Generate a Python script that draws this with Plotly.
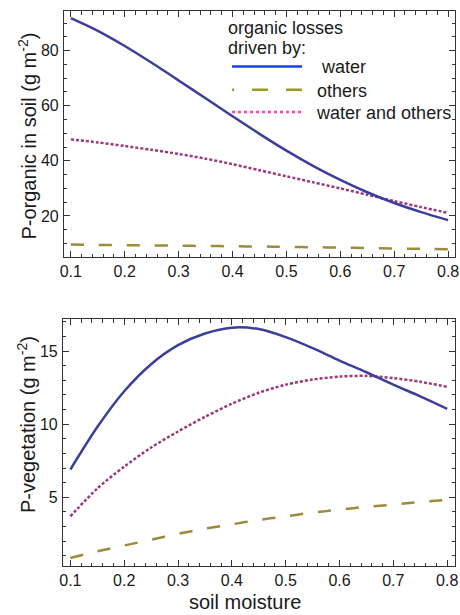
import plotly.graph_objects as go

# ---------------- data ----------------
moisture = [0.1, 0.15, 0.2, 0.25, 0.3, 0.35, 0.4, 0.45, 0.5, 0.55, 0.6, 0.65, 0.7, 0.75, 0.8]

soil_water = [91.8, 87.2, 81.7, 75.6, 69.2, 62.7, 56.2, 49.8, 43.7, 38.1, 33.1, 28.6, 24.7, 21.4, 18.5]
soil_others = [9.6, 9.5, 9.4, 9.3, 9.2, 9.1, 9.0, 8.9, 8.8, 8.65, 8.5, 8.35, 8.2, 8.05, 7.9]
soil_both = [47.8, 46.7, 45.4, 44.0, 42.5, 40.8, 38.8, 36.6, 34.4, 32.2, 30.0, 27.7, 25.4, 23.2, 21.1]

veg_water = [6.9, 9.8, 12.25, 14.1, 15.4, 16.2, 16.6, 16.5, 15.95, 15.2, 14.35, 13.55, 12.7, 11.9, 11.05]
veg_others = [0.85, 1.3, 1.7, 2.1, 2.5, 2.85, 3.15, 3.45, 3.7, 3.95, 4.15, 4.35, 4.5, 4.68, 4.82]
veg_both = [3.7, 5.6, 7.1, 8.4, 9.5, 10.5, 11.4, 12.15, 12.7, 13.05, 13.25, 13.3, 13.15, 12.9, 12.55]

series_names = ["water", "others", "water and others"]
legend_title_lines = ["organic losses", "driven by:"]
x_title = "soil moisture"
y_title_top = "P-organic in soil (g m<sup>-2</sup>)"
y_title_bottom = "P-vegetation (g m<sup>-2</sup>)"

x_ticks = [0.1, 0.2, 0.3, 0.4, 0.5, 0.6, 0.7, 0.8]

# ---------------- styles ----------------
FONT = "Liberation Sans, Arial, Helvetica, sans-serif"
TXT = "#1a1a1a"
C_WATER = "#3d3d9c"
C_OTHERS = "#9b8b3b"
C_BOTH = "#9a3a78"
LW = 2.5
W, H = 460, 615

fig = go.Figure()

panels = [
    ("x", "y", soil_water, soil_others, soil_both),
    ("x2", "y2", veg_water, veg_others, veg_both),
]
for xa, ya, sw, so, sb in panels:
    fig.add_trace(go.Scatter(x=moisture, y=so, xaxis=xa, yaxis=ya, mode="lines",
                             line=dict(color=C_OTHERS, width=LW, dash="13px,15px",
                                       shape="spline", smoothing=0.8),
                             showlegend=False, hoverinfo="skip"))
    fig.add_trace(go.Scatter(x=moisture, y=sb, xaxis=xa, yaxis=ya, mode="lines",
                             line=dict(color=C_BOTH, width=LW, dash="3px,2px",
                                       shape="spline", smoothing=0.8),
                             showlegend=False, hoverinfo="skip"))
    fig.add_trace(go.Scatter(x=moisture, y=sw, xaxis=xa, yaxis=ya, mode="lines",
                             line=dict(color=C_WATER, width=LW,
                                       shape="spline", smoothing=0.8),
                             showlegend=False, hoverinfo="skip"))

# legend-only entries (legend swatch colours differ from plotted lines)
legend_styles = [
    dict(color="#1a3cf5", width=LW),
    dict(color="#9a9a22", width=LW, dash="2px,18px,16px,18px,16px,100px"),
    dict(color="#ff3fa0", width=LW, dash="3px,3px"),
]
legend_ids = ["legend", "legend2", "legend3"]
legend_rows = [66.7, 90.0, 112.3]
name_pad = ["\u00a0\u00a0\u00a0", "\u00a0\u00a0", "\u00a0\u00a0"]
for name, st, lid, pad in zip(series_names, legend_styles, legend_ids, name_pad):
    fig.add_trace(go.Scatter(x=[None], y=[None], mode="lines", name=pad + name,
                             line=st, xaxis="x", yaxis="y", showlegend=True, legend=lid))


def px_x(p):
    return p / W


def px_y(p):
    return 1 - p / H


axis_common = dict(
    showgrid=False, zeroline=False, showline=True, linecolor="#333333", linewidth=1,
    mirror="allticks", ticks="inside", ticklen=6, tickwidth=1, tickcolor="#333333",
    tickfont=dict(family=FONT, size=16, color=TXT), ticklabeloverflow="allow",
    minor=dict(ticks="inside", ticklen=3.5, tickwidth=1, tickcolor="#333333"),
)

legend_common = dict(
    xanchor="left", yanchor="middle", bgcolor="rgba(0,0,0,0)", borderwidth=0,
    font=dict(family=FONT, size=18, color=TXT), itemwidth=70, tracegroupgap=0,
)

layout_legends = {}
for lid, row in zip(legend_ids, legend_rows):
    layout_legends[lid] = dict(x=px_x(227), y=px_y(row), **legend_common)

fig.update_layout(
    width=W, height=H,
    margin=dict(l=0, r=0, t=0, b=0),
    paper_bgcolor="white", plot_bgcolor="white",
    font=dict(family=FONT, color=TXT),
    xaxis=dict(domain=[px_x(61), px_x(459)], range=[0.0872, 0.8128], anchor="y",
               tickvals=x_ticks, ticktext=[f"{v:.1f}" for v in x_ticks],
               **{**axis_common, "minor": dict(axis_common["minor"], dtick=0.02, tick0=0.0)}),
    yaxis=dict(domain=[px_y(257), px_y(11)], range=[5.1, 94.4], anchor="x",
               dtick=20, tick0=0, ticklabelstandoff=1,
               **{**axis_common, "minor": dict(axis_common["minor"], dtick=5, tick0=0)}),
    xaxis2=dict(domain=[px_x(60), px_x(459)], range=[0.0862, 0.8146], anchor="y2",
                tickvals=x_ticks, ticktext=[f"{v:.1f}" for v in x_ticks],
                **{**axis_common, "minor": dict(axis_common["minor"], dtick=0.02, tick0=0.0)}),
    yaxis2=dict(domain=[px_y(566), px_y(319.3)], range=[0.3, 17.17], anchor="x2",
                dtick=5, tick0=0, ticklabelstandoff=1,
                **{**axis_common, "minor": dict(axis_common["minor"], dtick=1, tick0=0)}),
    showlegend=True,
    **layout_legends,
)

annotations = [
    dict(text=y_title_top, x=px_x(23), y=px_y(136), textangle=-90, xanchor="center"),
    dict(text=y_title_bottom, x=px_x(23), y=px_y(424.5), textangle=-90, xanchor="center"),
    dict(text=x_title, x=px_x(245), y=px_y(602), xanchor="center"),
]
for a in annotations:
    fig.add_annotation(xref="paper", yref="paper", yanchor="middle",
                       showarrow=False, font=dict(family=FONT, size=20, color=TXT), **a)

for line_text, yc in zip(legend_title_lines, [28.3, 48.3]):
    fig.add_annotation(xref="paper", yref="paper", x=px_x(226), y=px_y(yc),
                       xanchor="left", yanchor="middle", showarrow=False, text=line_text,
                       font=dict(family=FONT, size=18, color=TXT))

fig.write_html("out.html", config={"displayModeBar": False},
               post_script="document.body.style.margin='0';")
